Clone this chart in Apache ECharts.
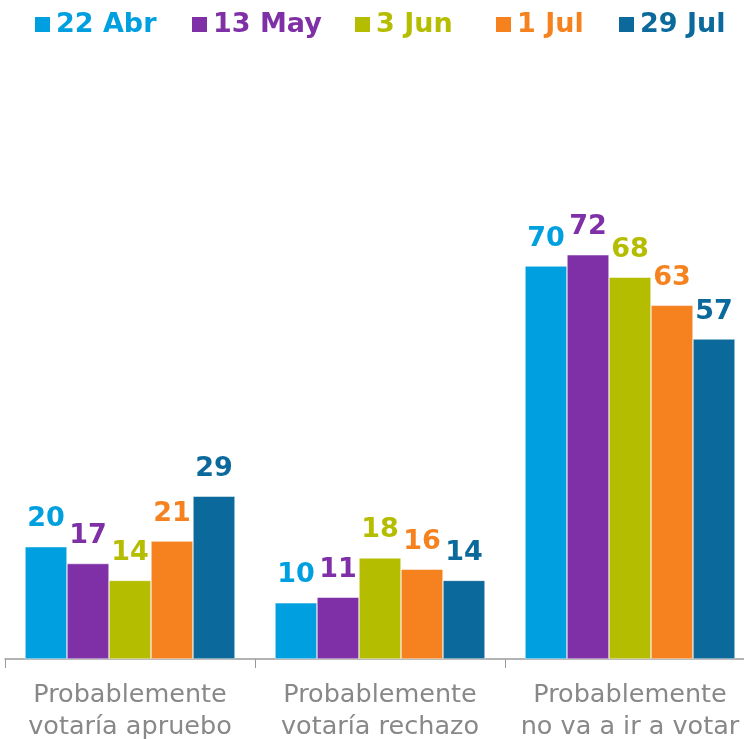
<!DOCTYPE html>
<html><head><meta charset="utf-8">
<script src="https://cdn.jsdelivr.net/npm/echarts@6/dist/echarts.min.js"></script>
<style>html,body{margin:0;padding:0;background:#fff}#c{width:744px;height:739px}</style>
</head><body><div id="c"></div>
<script>
const categories = ['Probablemente\nvotaría apruebo', 'Probablemente\nvotaría rechazo', 'Probablemente\nno va a ir a votar'];
const seriesNames = ['22 Abr', '13 May', '3 Jun', '1 Jul', '29 Jul'];
const s22Abr = [20, 10, 70];
const s13May = [17, 11, 72];
const s3Jun = [14, 18, 68];
const s1Jul = [21, 16, 63];
const s29Jul = [29, 14, 57];
const seriesData = [s22Abr, s13May, s3Jun, s1Jul, s29Jul];
const colors = ['#00a0e0', '#7f30a6', '#b5bd00', '#f5821f', '#0b699c'];

const chart = echarts.init(document.getElementById('c'));
const font = "'DejaVu Sans', sans-serif";
const legendLefts = [33, 190, 353, 494, 617];
chart.setOption({
  animation: false,
  color: colors,
  legend: seriesNames.map((n, i) => ({
    top: 11, left: legendLefts[i], padding: 0,
    itemWidth: 17, itemHeight: 17,
    icon: 'rect',
    textStyle: { fontFamily: font, fontWeight: 'bold', fontSize: 27, color: colors[i] },
    data: [n]
  })),
  grid: { left: 5, top: 97.6, width: 750, height: 561.4, outerBoundsMode: 'none', containLabel: false },
  xAxis: {
    type: 'category', data: categories,
    axisLine: { lineStyle: { color: '#9a9a9a', width: 1.5 } },
    axisTick: { show: true, length: 9, lineStyle: { color: '#9a9a9a' } },
    axisLabel: { interval: 0, color: '#888888', fontFamily: font, fontSize: 25.5, lineHeight: 32, margin: 20 }
  },
  yAxis: { type: 'value', min: 0, max: 100, show: false, splitLine: { show: false } },
  series: seriesNames.map((n, i) => ({
    name: n, type: 'bar', data: seriesData[i],
    barWidth: 42, barGap: '0%',
    itemStyle: { color: colors[i], borderColor: '#ffffff', borderWidth: 0.5 },
    label: { show: true, position: 'top', distance: 14, color: colors[i], fontFamily: font, fontWeight: 'bold', fontSize: 27 }
  }))
});
</script></body></html>
